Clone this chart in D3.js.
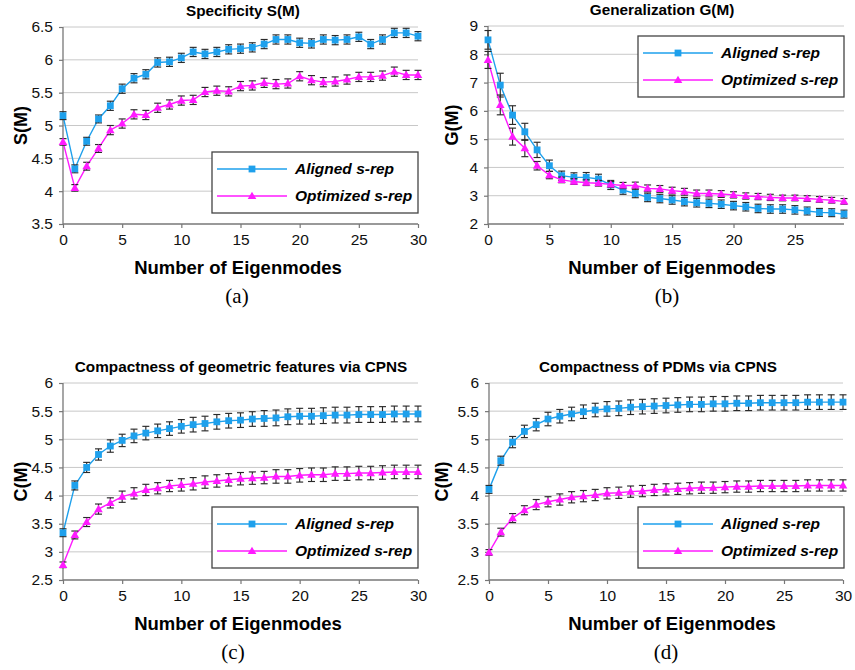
<!DOCTYPE html>
<html>
<head>
<meta charset="utf-8">
<script src="https://cdn.jsdelivr.net/npm/d3@7"></script>
<style>
  body { margin: 0; background: #fff; }
  svg { display: block; }
</style>
</head>
<body>
<div id="main"></div>
<script>
// ---------------- data ---------------------------------------//

let seriesNames = ['Aligned s-rep', 'Optimized s-rep'];

// (a) specificity
let specAligned = [5.15, 4.34, 4.76, 5.1, 5.3, 5.56, 5.72, 5.78, 5.96, 5.97, 6.03, 6.12, 6.09, 6.12, 6.16, 6.17,
  6.19, 6.24, 6.31, 6.31, 6.26, 6.25, 6.31, 6.3, 6.31, 6.35, 6.24, 6.31, 6.41, 6.41, 6.36];
let specAlignedErr = [0.06, 0.06, 0.06, 0.06, 0.07, 0.07, 0.07, 0.07, 0.07, 0.07, 0.07, 0.07, 0.07, 0.07, 0.07, 0.07,
  0.07, 0.07, 0.07, 0.07, 0.07, 0.07, 0.07, 0.07, 0.07, 0.07, 0.07, 0.07, 0.07, 0.07, 0.07];
let specOptimized = [4.75, 4.05, 4.38, 4.65, 4.93, 5.03, 5.17, 5.16, 5.27, 5.32, 5.38, 5.39, 5.51, 5.53, 5.52, 5.6,
  5.61, 5.65, 5.63, 5.64, 5.75, 5.69, 5.66, 5.67, 5.7, 5.74, 5.74, 5.76, 5.82, 5.77, 5.77];
let specOptimizedErr = [0.05, 0.05, 0.06, 0.06, 0.07, 0.07, 0.07, 0.07, 0.07, 0.07, 0.07, 0.07, 0.07, 0.07, 0.07, 0.07,
  0.07, 0.07, 0.07, 0.07, 0.07, 0.07, 0.07, 0.07, 0.07, 0.07, 0.07, 0.07, 0.07, 0.07, 0.07];

// (b) generalization
let genAligned = [8.51, 6.91, 5.85, 5.26, 4.62, 4.06, 3.71, 3.65, 3.65, 3.59, 3.38, 3.2, 3.08, 2.94, 2.9, 2.85,
  2.79, 2.75, 2.73, 2.7, 2.65, 2.61, 2.55, 2.53, 2.53, 2.5, 2.46, 2.41, 2.4, 2.35];
let genAlignedErr = [0.33, 0.42, 0.33, 0.3, 0.27, 0.2, 0.16, 0.16, 0.17, 0.17, 0.16, 0.15, 0.15, 0.15, 0.15, 0.15,
  0.15, 0.15, 0.15, 0.15, 0.15, 0.15, 0.15, 0.15, 0.15, 0.15, 0.14, 0.14, 0.14, 0.14];
let genOptimized = [7.8, 6.21, 5.09, 4.68, 4.06, 3.73, 3.56, 3.5, 3.46, 3.44, 3.4, 3.36, 3.36, 3.26, 3.24, 3.18,
  3.14, 3.08, 3.08, 3.06, 3.03, 2.99, 2.97, 2.94, 2.92, 2.92, 2.9, 2.87, 2.84, 2.8];
let genOptimizedErr = [0.3, 0.35, 0.3, 0.3, 0.15, 0.13, 0.1, 0.1, 0.1, 0.1, 0.1, 0.11, 0.12, 0.12, 0.12, 0.12,
  0.12, 0.12, 0.12, 0.12, 0.11, 0.11, 0.11, 0.11, 0.1, 0.1, 0.1, 0.1, 0.1, 0.1];

// (c) compactness of geometric features
let geoAligned = [3.34, 4.18, 4.5, 4.73, 4.88, 4.98, 5.06, 5.11, 5.15, 5.19, 5.23, 5.26, 5.28, 5.31, 5.33, 5.34,
  5.36, 5.37, 5.38, 5.4, 5.41, 5.41, 5.42, 5.43, 5.43, 5.44, 5.44, 5.44, 5.45, 5.45, 5.45];
let geoAlignedErr = [0.07, 0.08, 0.09, 0.1, 0.11, 0.11, 0.12, 0.12, 0.12, 0.12, 0.12, 0.13, 0.13, 0.13, 0.13, 0.13,
  0.13, 0.14, 0.14, 0.14, 0.14, 0.14, 0.14, 0.14, 0.14, 0.14, 0.14, 0.14, 0.14, 0.14, 0.14];
let geoOptimized = [2.77, 3.3, 3.53, 3.76, 3.87, 3.98, 4.04, 4.1, 4.13, 4.17, 4.19, 4.21, 4.24, 4.26, 4.28, 4.3,
  4.31, 4.32, 4.34, 4.34, 4.36, 4.37, 4.37, 4.39, 4.39, 4.4, 4.4, 4.41, 4.42, 4.42, 4.42];
let geoOptimizedErr = [0.05, 0.07, 0.08, 0.09, 0.09, 0.1, 0.1, 0.1, 0.1, 0.1, 0.11, 0.11, 0.11, 0.11, 0.11, 0.11,
  0.11, 0.11, 0.12, 0.12, 0.12, 0.12, 0.12, 0.12, 0.12, 0.12, 0.12, 0.12, 0.12, 0.12, 0.12];

// (d) compactness of PDMs
let pdmAligned = [4.11, 4.62, 4.95, 5.14, 5.26, 5.36, 5.41, 5.45, 5.49, 5.52, 5.54, 5.55, 5.57, 5.58, 5.59, 5.6,
  5.61, 5.62, 5.62, 5.63, 5.63, 5.64, 5.64, 5.65, 5.65, 5.65, 5.65, 5.66, 5.66, 5.66, 5.66];
let pdmAlignedErr = [0.07, 0.08, 0.1, 0.11, 0.11, 0.12, 0.12, 0.12, 0.12, 0.12, 0.13, 0.13, 0.13, 0.13, 0.13, 0.13,
  0.13, 0.13, 0.13, 0.13, 0.13, 0.13, 0.13, 0.13, 0.13, 0.13, 0.13, 0.13, 0.13, 0.13, 0.13];
let pdmOptimized = [2.99, 3.35, 3.6, 3.74, 3.84, 3.89, 3.93, 3.97, 3.99, 4.01, 4.04, 4.05, 4.07, 4.08, 4.1, 4.11,
  4.12, 4.13, 4.14, 4.14, 4.15, 4.16, 4.16, 4.17, 4.17, 4.17, 4.17, 4.18, 4.18, 4.18, 4.18];
let pdmOptimizedErr = [0.05, 0.07, 0.08, 0.08, 0.09, 0.09, 0.1, 0.1, 0.1, 0.1, 0.1, 0.1, 0.1, 0.1, 0.1, 0.1,
  0.1, 0.1, 0.1, 0.1, 0.1, 0.1, 0.1, 0.1, 0.1, 0.1, 0.1, 0.1, 0.1, 0.1, 0.1];

// tick labels
let xTicks30 = [0, 5, 10, 15, 20, 25, 30];
let xTicks29 = [0, 5, 10, 15, 20, 25];
let yTicksSpec = [3.5, 4, 4.5, 5, 5.5, 6, 6.5];
let yTicksGen = [2, 3, 4, 5, 6, 7, 8, 9];
let yTicksComp = [2.5, 3, 3.5, 4, 4.5, 5, 5.5, 6];

// ---------------- global formatting vars -----------------//

let width = 855;
let height = 670;
let blue = "#1ea0ec";
let magenta = "#ff1aff";
let fontSans = "'Liberation Sans', Arial, sans-serif";

let svg = d3.select("#main")
  .append("svg")
  .attr("width", width)
  .attr("height", height)

let panels = [
  {title: 'Specificity S(M)', ylabel: 'S(M)', letter: '(a)',
    left: 63, right: 418, top: 27, bottom: 224, xMax: 30, xTicks: xTicks30, yTicks: yTicksSpec,
    series: [[specAligned, specAlignedErr], [specOptimized, specOptimizedErr]],
    titleX: 243, ylabelX: 21, labelX: 238, letterX: 237, legend: [212, 152]},
  {title: 'Generalization G(M)', ylabel: 'G(M)', letter: '(b)',
    left: 488, right: 844, top: 26, bottom: 224, xMax: 29, xTicks: xTicks29, yTicks: yTicksGen,
    series: [[genAligned, genAlignedErr], [genOptimized, genOptimizedErr]],
    titleX: 662, ylabelX: 452, labelX: 672, letterX: 667, legend: [638, 36]},
  {title: 'Compactness of geometric features via CPNS', ylabel: 'C(M)', letter: '(c)',
    left: 63, right: 418, top: 383, bottom: 580, xMax: 30, xTicks: xTicks30, yTicks: yTicksComp,
    series: [[geoAligned, geoAlignedErr], [geoOptimized, geoOptimizedErr]],
    titleX: 241, ylabelX: 21, labelX: 238, letterX: 233, legend: [212, 507]},
  {title: 'Compactness of PDMs via CPNS', ylabel: 'C(M)', letter: '(d)',
    left: 489, right: 843, top: 383, bottom: 580, xMax: 30, xTicks: xTicks30, yTicks: yTicksComp,
    series: [[pdmAligned, pdmAlignedErr], [pdmOptimized, pdmOptimizedErr]],
    titleX: 658, ylabelX: 442, labelX: 672, letterX: 666, legend: [638, 507]}
];

let colors = [blue, magenta];
let triangle = d3.symbol().type(d3.symbolTriangle).size(32);

panels.forEach(drawPanel);

function drawMarker(sel, k) {
  if (k === 0) {
    sel.append("rect")
      .attr("x", -3.4).attr("y", -3.4)
      .attr("width", 6.8).attr("height", 6.8)
      .attr("fill", blue);
  } else {
    sel.append("path")
      .attr("d", triangle)
      .attr("transform", "translate(0,0.6)")
      .attr("fill", magenta);
  }
}

function drawPanel(p) {
  let g = svg.append("g");
  let yMin = p.yTicks[0], yMax = p.yTicks[p.yTicks.length - 1];

  let x = d3.scaleLinear().domain([0, p.xMax]).range([p.left, p.right]);
  let y = d3.scaleLinear().domain([yMin, yMax]).range([p.bottom, p.top]);

  // gridlines
  g.append("g")
    .selectAll("line")
    .data(p.yTicks.slice(1))
    .join("line")
    .attr("x1", p.left).attr("x2", p.right)
    .attr("y1", d => y(d)).attr("y2", d => y(d))
    .attr("stroke", "#c8c8c8")
    .attr("stroke-width", 1);

  // axes
  let xAxis = d3.axisBottom(x).tickValues(p.xTicks).tickSize(4).tickPadding(6);
  let yAxis = d3.axisLeft(y).tickValues(p.yTicks).tickSize(4).tickPadding(6)
    .tickFormat(d3.format("~g"));

  let gx = g.append("g")
    .attr("transform", `translate(0, ${p.bottom})`)
    .call(xAxis);
  let gy = g.append("g")
    .attr("transform", `translate(${p.left}, 0)`)
    .call(yAxis);

  [gx, gy].forEach(function(a) {
    a.select(".domain").attr("stroke", "#777").attr("stroke-width", 1.3);
    a.selectAll(".tick line").attr("stroke", "#777").attr("stroke-width", 1.2);
    a.selectAll(".tick text")
      .attr("fill", "#111")
      .style("font-family", fontSans)
      .style("font-size", "15.5px");
  });
  gx.select(".domain").attr("d", `M${p.left},0H${p.right}`);
  gy.select(".domain").attr("d", `M0,${p.bottom}V${p.top}`);

  // series
  p.series.forEach(function(s, k) {
    let vals = s[0], errs = s[1];
    let pts = vals.map((v, i) => ({i: i, v: v, e: errs[i]}));

    g.append("path")
      .datum(pts)
      .attr("fill", "none")
      .attr("stroke", colors[k])
      .attr("stroke-width", 1.4)
      .attr("d", d3.line().x(d => x(d.i)).y(d => y(d.v)));

    // error bars
    let eb = g.append("g")
      .attr("stroke", "#2a2a2a")
      .attr("stroke-width", 1.15)
      .selectAll("g")
      .data(pts)
      .join("g");
    eb.append("line")
      .attr("x1", d => x(d.i)).attr("x2", d => x(d.i))
      .attr("y1", d => y(d.v - d.e)).attr("y2", d => y(d.v + d.e));
    eb.append("line")
      .attr("x1", d => x(d.i) - 3.5).attr("x2", d => x(d.i) + 3.5)
      .attr("y1", d => y(d.v - d.e)).attr("y2", d => y(d.v - d.e));
    eb.append("line")
      .attr("x1", d => x(d.i) - 3.5).attr("x2", d => x(d.i) + 3.5)
      .attr("y1", d => y(d.v + d.e)).attr("y2", d => y(d.v + d.e));

    g.append("g")
      .selectAll("g")
      .data(pts)
      .join("g")
      .attr("transform", d => `translate(${x(d.i)}, ${y(d.v)})`)
      .each(function() { drawMarker(d3.select(this), k); });
  });

  // titles and labels
  g.append("text")
    .attr("x", p.titleX).attr("y", p.top - 11)
    .attr("text-anchor", "middle")
    .style("font-family", fontSans)
    .style("font-weight", "bold")
    .style("font-size", "15.3px")
    .text(p.title);

  g.append("text")
    .attr("transform", `translate(${p.ylabelX}, ${(p.top + p.bottom) / 2}) rotate(-90)`)
    .attr("text-anchor", "middle")
    .attr("dy", "0.35em")
    .style("font-family", fontSans)
    .style("font-weight", "bold")
    .style("font-size", "18px")
    .text(p.ylabel);

  g.append("text")
    .attr("x", p.labelX).attr("y", p.bottom + 50)
    .attr("text-anchor", "middle")
    .style("font-family", fontSans)
    .style("font-weight", "bold")
    .style("font-size", "18.5px")
    .text("Number of Eigenmodes");

  g.append("text")
    .attr("x", p.letterX).attr("y", p.bottom + 79)
    .attr("text-anchor", "middle")
    .style("font-family", "'Liberation Serif', 'Times New Roman', serif")
    .style("font-size", "21px")
    .text(p.letter);

  // legend
  let lg = g.append("g").attr("transform", `translate(${p.legend[0]}, ${p.legend[1]})`);
  lg.append("rect")
    .attr("width", 206).attr("height", 61)
    .attr("fill", "#fff")
    .attr("stroke", "#444")
    .attr("stroke-width", 1.3);
  seriesNames.forEach(function(name, k) {
    let row = lg.append("g").attr("transform", `translate(0, ${17 + k * 27})`);
    row.append("line")
      .attr("x1", 5).attr("x2", 75)
      .attr("stroke", colors[k]).attr("stroke-width", 1.4);
    drawMarker(row.append("g").attr("transform", "translate(40, 0)"), k);
    row.append("text")
      .attr("x", 83).attr("dy", "0.35em")
      .style("font-family", fontSans)
      .style("font-weight", "bold")
      .style("font-style", "italic")
      .style("font-size", "15.5px")
      .text(name);
  });
}
</script>
</body>
</html>
